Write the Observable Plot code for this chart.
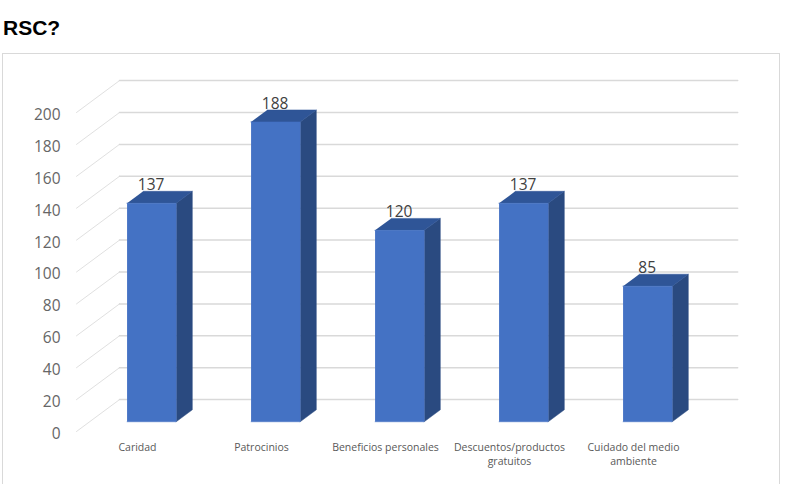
<!DOCTYPE html>
<html>
<head>
<meta charset="utf-8">
<script src="https://cdn.jsdelivr.net/npm/d3@7"></script>
<script src="https://cdn.jsdelivr.net/npm/@observablehq/plot@0.6"></script>
<style>
  html, body { margin: 0; padding: 0; background: #fff; overflow: hidden; }
  #page { position: relative; width: 792px; height: 484px; overflow: hidden; }
  #title { position: absolute; left: 3px; top: 16px; font: bold 21px/24px "Liberation Sans", Arial, sans-serif; color: #000; }
  #frame { position: absolute; left: 2px; top: 53px; width: 776px; height: 460px; border: 1px solid #d9d9d9; }
  #chart { position: absolute; left: 0; top: 53px; }
  #chart svg { display: block; background: none; }
</style>
</head>
<body>
<div id="page">
  <div id="title">RSC?</div>
  <div id="frame"></div>
  <div id="chart"></div>
</div>
<script>
const categories = ["Caridad", "Patrocinios", "Beneficios personales", "Descuentos/productos\ngratuitos", "Cuidado del medio\nambiente"];
const values = [137, 188, 120, 137, 85];
const yTicks = [0, 20, 40, 60, 80, 100, 120, 140, 160, 180, 200];

// Oblique projection: depth d (0 = front of floor, 1 = back wall) shifts a point in data units.
const depthX = 0.347, depthY = 20;
const barFront = 0.305, barBack = 0.68, halfWidth = 0.198, wallEnd = 4.985;
const project = (x, v, d) => ({x: x + depthX * d, y: v + depthY * d});

const sideWall = yTicks.flatMap(v => [project(0, v, 0), project(0, v, 1)].map(p => ({...p, id: v})));
const backWall = yTicks.flatMap(v => [project(0, v, 1), project(wallEnd, v, 1)].map(p => ({...p, id: v})));

const bars = values.map((v, i) => ({i, v, c: i + 0.5}));
const frontFaces = bars.flatMap(b => [
  project(b.c - halfWidth, 0, barFront), project(b.c + halfWidth, 0, barFront),
  project(b.c + halfWidth, b.v, barFront), project(b.c - halfWidth, b.v, barFront)
].map(p => ({...p, id: b.i})));
const topFaces = bars.flatMap(b => [
  project(b.c - halfWidth, b.v, barFront), project(b.c + halfWidth, b.v, barFront),
  project(b.c + halfWidth, b.v, barBack), project(b.c - halfWidth, b.v, barBack)
].map(p => ({...p, id: b.i})));
const sideFaces = bars.flatMap(b => [
  project(b.c + halfWidth, 0, barFront), project(b.c + halfWidth, 0, barBack),
  project(b.c + halfWidth, b.v, barBack), project(b.c + halfWidth, b.v, barFront)
].map(p => ({...p, id: b.i})));
const valueLabels = bars.map(b => ({...project(b.c, b.v, barFront), v: b.v}));

const chart = Plot.plot({
  width: 792,
  height: 431,
  marginLeft: 76,
  marginRight: 96,
  marginTop: 59,
  marginBottom: 53,
  x: {type: "linear", domain: [0, 5]},
  y: {domain: [0, 200]},
  style: {fontFamily: "'Open Sans', sans-serif", background: "none", overflow: "visible"},
  marks: [
    Plot.line(sideWall, {x: "x", y: "y", z: "id", stroke: "#e0e0e0", strokeWidth: 1}),
    Plot.line(backWall, {x: "x", y: "y", z: "id", stroke: "#d9d9d9", strokeWidth: 1.5}),
    Plot.axisY({ticks: yTicks, tickSize: 0, tickPadding: 16, fontSize: 15.5, color: "#666666", label: null, dy: 2.5}),
    Plot.axisX({ticks: categories.map((_, i) => i + 0.5), tickFormat: t => categories[t - 0.5], tickSize: 0,
      tickPadding: 9, fontSize: 10.5, color: "#595959", label: null, lineHeight: 1.35, lineAnchor: "top",
      textOverflow: null, dx: -1, style: {letterSpacing: "0.45px"}}),
    Plot.line(sideFaces, {x: "x", y: "y", z: "id", fill: "#2a4a80", stroke: "#2a4a80", strokeWidth: 0.5}),
    Plot.line(topFaces, {x: "x", y: "y", z: "id", fill: "#2f5597", stroke: "#2f5597", strokeWidth: 0.5}),
    Plot.line(frontFaces, {x: "x", y: "y", z: "id", fill: "#4472c4", stroke: "#4472c4", strokeWidth: 0.5}),
    Plot.text(valueLabels, {x: "x", y: "y", text: "v", dy: -18, dx: -0.5, fontSize: 15.5, fill: "#404040"})
  ]
});
document.getElementById("chart").appendChild(chart);
</script>
</body>
</html>
